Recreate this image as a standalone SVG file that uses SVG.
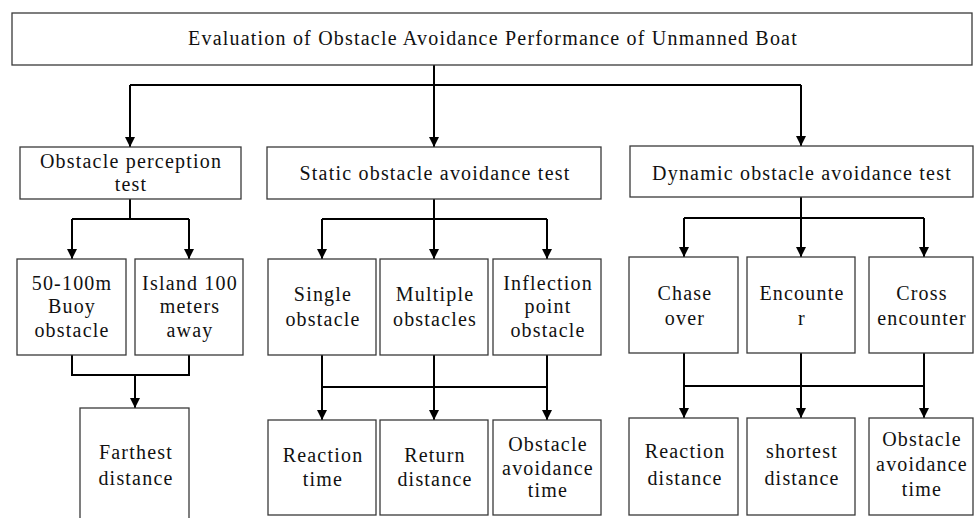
<svg xmlns="http://www.w3.org/2000/svg" width="974" height="518" viewBox="0 0 974 518">
<style>
.box{fill:#fff;stroke:#3a3a3a;stroke-width:1.3}
.t{font-family:"Liberation Serif","Times New Roman",serif;font-size:20px;letter-spacing:1.2px;fill:#111;text-anchor:middle}
.c{fill:none;stroke:#000;stroke-width:2}
</style>
<defs>
<marker id="ah" viewBox="0 0 10 10" refX="10" refY="5" markerWidth="10" markerHeight="10" markerUnits="userSpaceOnUse" orient="auto">
<path d="M0,0 L10,5 L0,10 Z" fill="#000"/>
</marker>
</defs>
<rect width="974" height="518" fill="#fff"/>
<g id="connectors">
<path class="c" d="M434,65 V147" marker-end="url(#ah)"/>
<path class="c" d="M130,85 H801"/>
<path class="c" d="M130,85 V147" marker-end="url(#ah)"/>
<path class="c" d="M801,85 V146" marker-end="url(#ah)"/>
<path class="c" d="M130,199 V219"/>
<path class="c" d="M72,219 H189"/>
<path class="c" d="M72,219 V259" marker-end="url(#ah)"/>
<path class="c" d="M189,219 V259" marker-end="url(#ah)"/>
<path class="c" d="M434,199 V259" marker-end="url(#ah)"/>
<path class="c" d="M322,219 H547"/>
<path class="c" d="M322,219 V259" marker-end="url(#ah)"/>
<path class="c" d="M547,219 V259" marker-end="url(#ah)"/>
<path class="c" d="M801,197 V257" marker-end="url(#ah)"/>
<path class="c" d="M684,218 H924"/>
<path class="c" d="M684,218 V257" marker-end="url(#ah)"/>
<path class="c" d="M924,218 V257" marker-end="url(#ah)"/>
<path class="c" d="M72,355 V375 H189 V355"/>
<path class="c" d="M135,375 V408" marker-end="url(#ah)"/>
<path class="c" d="M322,355 V420" marker-end="url(#ah)"/>
<path class="c" d="M434,355 V420" marker-end="url(#ah)"/>
<path class="c" d="M547,355 V420" marker-end="url(#ah)"/>
<path class="c" d="M322,387 H547"/>
<path class="c" d="M684,353 V418" marker-end="url(#ah)"/>
<path class="c" d="M801,353 V418" marker-end="url(#ah)"/>
<path class="c" d="M924,353 V418" marker-end="url(#ah)"/>
<path class="c" d="M684,386 H924"/>
</g>
<g id="root"><rect class="box" x="12" y="13" width="960" height="52"/><text class="t" x="493" y="45">Evaluation of Obstacle Avoidance Performance of Unmanned Boat</text></g>
<g id="perception"><rect class="box" x="20" y="147" width="221" height="52"/><text class="t" x="131" y="168">Obstacle perception</text><text class="t" x="131" y="191">test</text></g>
<g id="static"><rect class="box" x="267" y="147" width="334" height="52"/><text class="t" x="435" y="180">Static obstacle avoidance test</text></g>
<g id="dynamic"><rect class="box" x="630" y="146" width="343" height="51"/><text class="t" x="802" y="180">Dynamic obstacle avoidance test</text></g>
<g id="buoy"><rect class="box" x="17" y="259" width="109" height="96"/><text class="t" x="72" y="290">50-100m</text><text class="t" x="72" y="313">Buoy</text><text class="t" x="72" y="337">obstacle</text></g>
<g id="island"><rect class="box" x="135" y="259" width="108" height="96"/><text class="t" x="190" y="290">Island 100</text><text class="t" x="190" y="313">meters</text><text class="t" x="190" y="337">away</text></g>
<g id="single"><rect class="box" x="268" y="259" width="108" height="96"/><text class="t" x="323" y="301">Single</text><text class="t" x="323" y="326">obstacle</text></g>
<g id="multiple"><rect class="box" x="380" y="259" width="108" height="96"/><text class="t" x="435" y="301">Multiple</text><text class="t" x="435" y="326">obstacles</text></g>
<g id="inflection"><rect class="box" x="493" y="259" width="108" height="96"/><text class="t" x="548" y="290">Inflection</text><text class="t" x="548" y="313">point</text><text class="t" x="548" y="337">obstacle</text></g>
<g id="chase"><rect class="box" x="629" y="257" width="109" height="96"/><text class="t" x="685" y="300">Chase</text><text class="t" x="685" y="325">over</text></g>
<g id="encounter"><rect class="box" x="747" y="257" width="108" height="96"/><text class="t" x="802" y="300">Encounte</text><text class="t" x="802" y="325">r</text></g>
<g id="cross"><rect class="box" x="869" y="257" width="104" height="96"/><text class="t" x="922" y="300">Cross</text><text class="t" x="922" y="325">encounter</text></g>
<g id="farthest"><rect class="box" x="80" y="408" width="109" height="120"/><text class="t" x="136" y="459">Farthest</text><text class="t" x="136" y="485">distance</text></g>
<g id="reaction-time"><rect class="box" x="268" y="420" width="108" height="95"/><text class="t" x="323" y="462">Reaction</text><text class="t" x="323" y="486">time</text></g>
<g id="return-distance"><rect class="box" x="380" y="420" width="108" height="95"/><text class="t" x="435" y="462">Return</text><text class="t" x="435" y="486">distance</text></g>
<g id="static-avoid-time"><rect class="box" x="493" y="420" width="108" height="95"/><text class="t" x="548" y="451">Obstacle</text><text class="t" x="548" y="475">avoidance</text><text class="t" x="548" y="497">time</text></g>
<g id="reaction-distance"><rect class="box" x="629" y="418" width="109" height="97"/><text class="t" x="685" y="458">Reaction</text><text class="t" x="685" y="485">distance</text></g>
<g id="shortest-distance"><rect class="box" x="747" y="418" width="108" height="97"/><text class="t" x="802" y="458">shortest</text><text class="t" x="802" y="485">distance</text></g>
<g id="dynamic-avoid-time"><rect class="box" x="869" y="418" width="104" height="97"/><text class="t" x="922" y="446">Obstacle</text><text class="t" x="922" y="471">avoidance</text><text class="t" x="922" y="496">time</text></g>
</svg>
